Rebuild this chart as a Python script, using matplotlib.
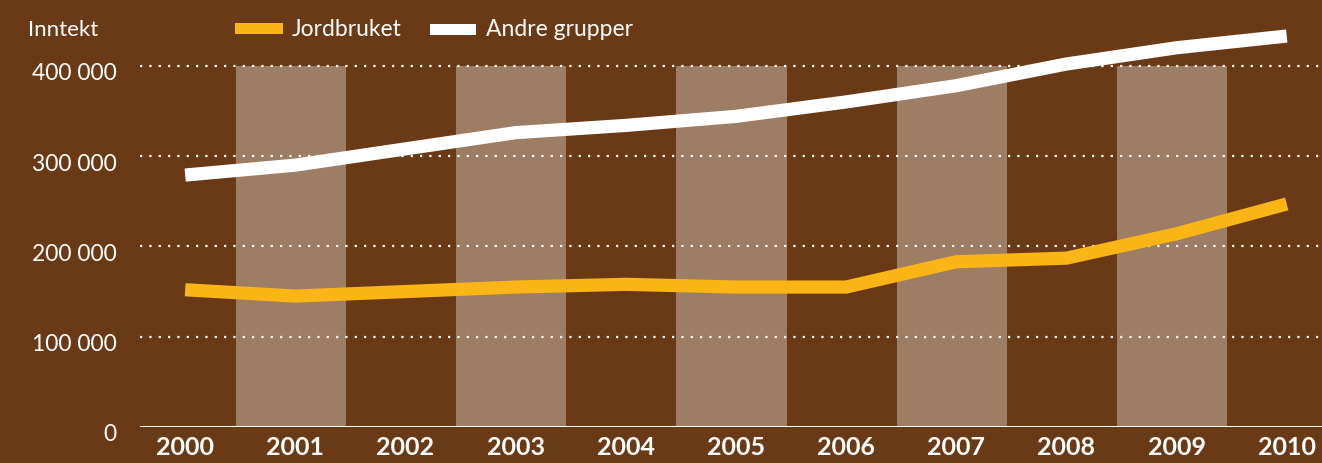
import numpy as np
import matplotlib.pyplot as plt
import matplotlib.transforms as mtransforms
from matplotlib.patches import Rectangle

# Inntekt per år
years = [2000, 2001, 2002, 2003, 2004, 2005, 2006, 2007, 2008, 2009, 2010]
jordbruket = [152000, 145000, 150000, 155000, 158000, 155000, 155000, 183000, 187000, 214000, 247000]
andre = [279000, 290000, 308000, 326000, 334000, 344000, 360000, 378000, 402000, 420000, 433000]
yticks = [0, 100000, 200000, 300000, 400000]
ytick_labels = ["0", "100 000", "200 000", "300 000", "400 000"]
band_years = [2001, 2003, 2005, 2007, 2009]

bg = '#6a3a17'
orange = '#fbb516'

plt.rcParams['font.family'] = ['Lato', 'DejaVu Sans']

fig = plt.figure(figsize=(13.22, 4.64), dpi=100)
fig.patch.set_facecolor(bg)
ax = fig.add_axes([140 / 1322, 36 / 464, 1 - 140 / 1322, 428 / 464])
ax.set_facecolor(bg)

# lyse bånd for annethvert år
for yr in band_years:
    ax.add_patch(Rectangle((yr - 0.54, 0), 1, 400000, facecolor='#ddd0c4', alpha=0.45,
                           edgecolor='none', zorder=1))

# stiplede hjelpelinjer
for v in yticks[1:]:
    ax.axhline(v, color='white', linestyle=(0, (1, 3.2)), linewidth=1.6, zorder=2)
ax.axhline(0, color='white', linewidth=2.2, zorder=2)

ax.plot(years, andre, color='white', linewidth=9.5, solid_capstyle='butt', zorder=4)
ax.plot(years, jordbruket, color=orange, linewidth=9.5, solid_capstyle='butt', zorder=4)

ax.set_xlim(1999.59, 2010.32)
ax.set_ylim(0, 474000)
ax.set_xticks(years)
ax.set_xticklabels([str(y) for y in years], fontsize=18, fontweight='bold', color='white')
ax.set_yticks(yticks)
ax.set_yticklabels(ytick_labels, fontsize=16.5, color='white')
ax.tick_params(axis='both', length=0)
ax.tick_params(axis='x', pad=6)
ax.tick_params(axis='y', pad=17)
for s in ax.spines.values():
    s.set_visible(False)

# y-etiketter litt under linjene som i originalen
offset = mtransforms.ScaledTranslation(0, -0.05, fig.dpi_scale_trans)
for lbl in ax.get_yticklabels():
    lbl.set_transform(lbl.get_transform() + offset)

# tittel og forklaring
fig.text(28 / 1322, 1 - 30 / 464, "Inntekt", color='white', fontsize=16, va='center', ha='left')
fig.patches.append(Rectangle((235 / 1322, 1 - 35 / 464), 48 / 1322, 11 / 464,
                             transform=fig.transFigure, facecolor=orange, edgecolor='none'))
fig.text(292 / 1322, 1 - 30 / 464, "Jordbruket", color='white', fontsize=16.5, va='center', ha='left')
fig.patches.append(Rectangle((430 / 1322, 1 - 36 / 464), 46 / 1322, 11 / 464,
                             transform=fig.transFigure, facecolor='white', edgecolor='none'))
fig.text(486 / 1322, 1 - 30 / 464, "Andre grupper", color='white', fontsize=16.5, va='center', ha='left')

fig.savefig('out.png', dpi=100, facecolor=bg)
